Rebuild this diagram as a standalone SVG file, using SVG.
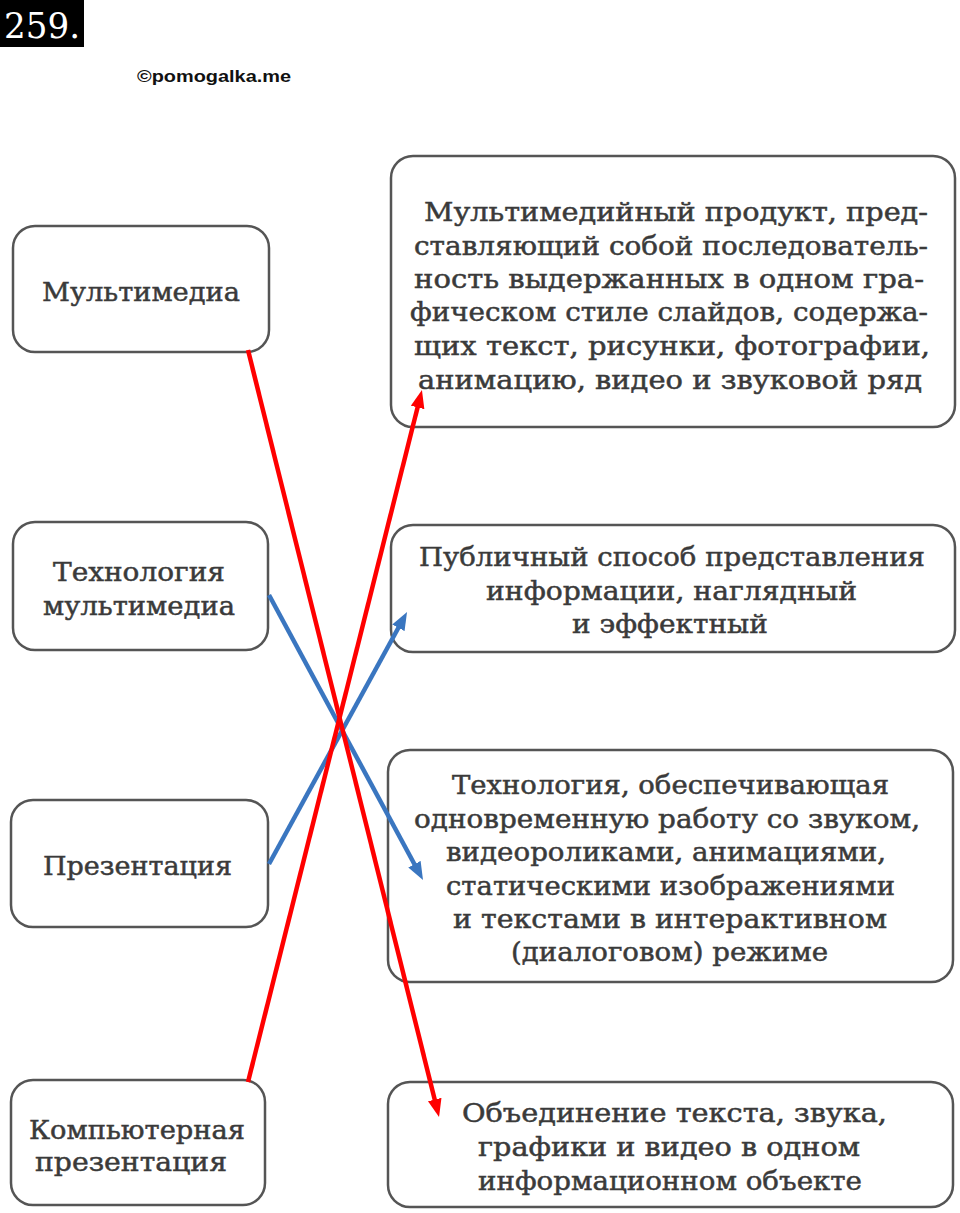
<svg xmlns="http://www.w3.org/2000/svg" width="960" height="1213" viewBox="0 0 960 1213">
<style>
.box{fill:#fff;stroke:#555;stroke-width:2.5}
.t{font-family:"DejaVu Serif","Liberation Serif",serif;font-size:26px;fill:#3a3a3a;stroke:#3a3a3a;stroke-width:0.5}
.red{stroke:#ff0000;stroke-width:4.5;fill:none}
.blue{stroke:#3a76c0;stroke-width:4.5;fill:none}
</style>
<defs>
<marker id="ar" markerUnits="userSpaceOnUse" markerWidth="18" markerHeight="14" refX="10" refY="7" orient="auto"><path d="M0,0 L18,7 L0,14 z" fill="#ff0000"/></marker>
<marker id="ab" markerUnits="userSpaceOnUse" markerWidth="18" markerHeight="14" refX="10" refY="7" orient="auto"><path d="M0,0 L18,7 L0,14 z" fill="#3a76c0"/></marker>
</defs>
<rect width="960" height="1213" fill="#fff"/>
<g id="title">
<rect x="0" y="0" width="84" height="47" fill="#000"/>
<text x="4" y="38" font-family="DejaVu Serif, serif" font-size="36" fill="#fff" textLength="76" lengthAdjust="spacingAndGlyphs">259.</text>
</g>
<text id="watermark" x="137" y="82" font-family="Liberation Sans, Arial, sans-serif" font-weight="bold" font-size="17" fill="#111" textLength="154" lengthAdjust="spacingAndGlyphs">©pomogalka.me</text>

<g id="left1"><rect class="box" x="13" y="226" width="256" height="126" rx="22"/>
<text class="t" x="42" y="301" textLength="198" lengthAdjust="spacingAndGlyphs">Мультимедиа</text></g>
<g id="left2"><rect class="box" x="13" y="522" width="255" height="128" rx="22"/>
<text class="t" x="53" y="581" textLength="172" lengthAdjust="spacingAndGlyphs">Технология</text>
<text class="t" x="43" y="615" textLength="192" lengthAdjust="spacingAndGlyphs">мультимедиа</text></g>
<g id="left3"><rect class="box" x="11" y="800" width="257" height="127" rx="22"/>
<text class="t" x="43" y="875" textLength="189" lengthAdjust="spacingAndGlyphs">Презентация</text></g>
<g id="left4"><rect class="box" x="11" y="1080" width="254" height="125" rx="22"/>
<text class="t" x="29" y="1139" textLength="216" lengthAdjust="spacingAndGlyphs">Компьютерная</text>
<text class="t" x="35" y="1171" textLength="192" lengthAdjust="spacingAndGlyphs">презентация</text></g>

<g id="right1"><rect class="box" x="391" y="156" width="564" height="271" rx="22"/>
<text class="t" x="424" y="221" textLength="504" lengthAdjust="spacingAndGlyphs">Мультимедийный продукт, пред-</text>
<text class="t" x="414" y="254.6" textLength="514" lengthAdjust="spacingAndGlyphs">ставляющий собой последователь-</text>
<text class="t" x="414" y="288" textLength="510" lengthAdjust="spacingAndGlyphs">ность выдержанных в одном гра-</text>
<text class="t" x="410" y="321.4" textLength="518" lengthAdjust="spacingAndGlyphs">фическом стиле слайдов, содержа-</text>
<text class="t" x="414" y="355" textLength="516" lengthAdjust="spacingAndGlyphs">щих текст, рисунки, фотографии,</text>
<text class="t" x="418" y="389" textLength="504" lengthAdjust="spacingAndGlyphs">анимацию, видео и звуковой ряд</text></g>
<g id="right2"><rect class="box" x="391" y="525" width="564" height="127" rx="22"/>
<text class="t" x="419" y="566" textLength="506" lengthAdjust="spacingAndGlyphs">Публичный способ представления</text>
<text class="t" x="486" y="600" textLength="371" lengthAdjust="spacingAndGlyphs">информации, наглядный</text>
<text class="t" x="572" y="633" textLength="196" lengthAdjust="spacingAndGlyphs">и эффектный</text></g>
<g id="right3"><rect class="box" x="388" y="750" width="565" height="232" rx="22"/>
<text class="t" x="452" y="794" textLength="437" lengthAdjust="spacingAndGlyphs">Технология, обеспечивающая</text>
<text class="t" x="414" y="828" textLength="506" lengthAdjust="spacingAndGlyphs">одновременную работу со звуком,</text>
<text class="t" x="446" y="861" textLength="440" lengthAdjust="spacingAndGlyphs">видеороликами, анимациями,</text>
<text class="t" x="446" y="895" textLength="449" lengthAdjust="spacingAndGlyphs">статическими изображениями</text>
<text class="t" x="453" y="928" textLength="434" lengthAdjust="spacingAndGlyphs">и текстами в интерактивном</text>
<text class="t" x="511" y="961" textLength="317" lengthAdjust="spacingAndGlyphs">(диалоговом) режиме</text></g>
<g id="right4"><rect class="box" x="388" y="1082" width="565" height="125" rx="22"/>
<text class="t" x="462" y="1122" textLength="425" lengthAdjust="spacingAndGlyphs">Объединение текста, звука,</text>
<text class="t" x="478" y="1156" textLength="382" lengthAdjust="spacingAndGlyphs">графики и видео в одном</text>
<text class="t" x="478" y="1190" textLength="384" lengthAdjust="spacingAndGlyphs">информационном объекте</text></g>

<g id="connectors">
<line class="blue" x1="269" y1="595" x2="419.2" y2="873" marker-end="url(#ab)"/>
<line class="blue" x1="269" y1="864" x2="403.2" y2="619" marker-end="url(#ab)"/>
<line class="red" x1="248" y1="350" x2="437.1" y2="1109.2" marker-end="url(#ar)"/>
<line class="red" x1="248" y1="1082" x2="420" y2="397.8" marker-end="url(#ar)"/>
</g>
</svg>
